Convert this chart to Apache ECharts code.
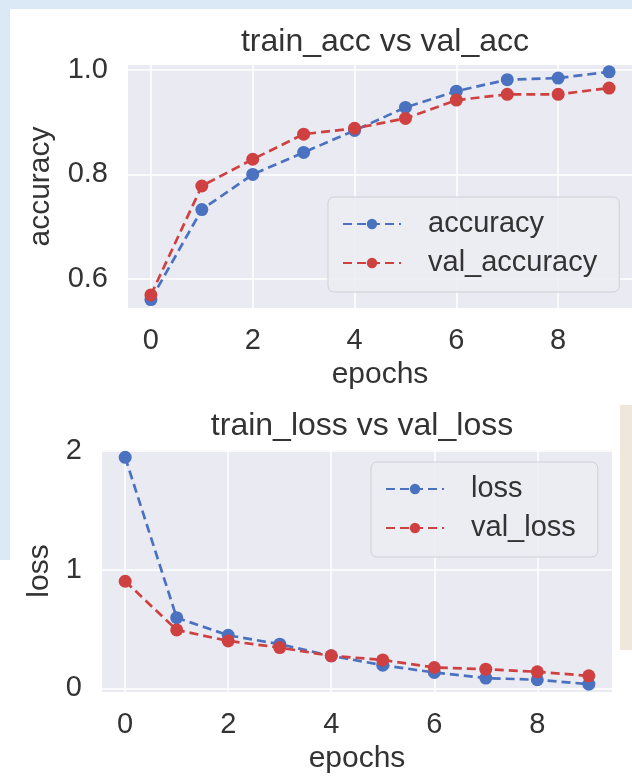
<!DOCTYPE html>
<html>
<head>
    <meta charset="utf-8">
    <title>train vs val</title>
    <script src="https://cdn.jsdelivr.net/npm/echarts@6/dist/echarts.min.js"></script>
    <style>
        html, body { margin: 0; padding: 0; }
        body { width: 632px; height: 778px; background: #dbe8f5; position: relative; overflow: hidden; }
        #paper { position: absolute; left: 10px; top: 9px; right: 0; bottom: 0; background: #fff; }
        #paper2 { position: absolute; left: 0; top: 560px; width: 10px; bottom: 0; background: #fff; }
        #edge { position: absolute; left: 620px; top: 405px; width: 12px; height: 245px; background: #efe6dc; }
        #chart { position: absolute; left: 0; top: 0; width: 632px; height: 778px; }
    </style>
</head>
<body>
    <div id="paper"></div>
    <div id="paper2"></div>
    <div id="edge"></div>
    <div id="chart"></div>

    <script>
        // values
        var epochs = [0, 1, 2, 3, 4, 5, 6, 7, 8, 9];
        var accuracy = [0.561, 0.733, 0.800, 0.842, 0.884, 0.928, 0.959, 0.981, 0.984, 0.996];
        var valAccuracy = [0.570, 0.778, 0.829, 0.877, 0.888, 0.907, 0.942, 0.953, 0.953, 0.965];
        var loss = [1.944, 0.595, 0.447, 0.372, 0.274, 0.196, 0.134, 0.087, 0.073, 0.036];
        var valLoss = [0.902, 0.492, 0.400, 0.344, 0.274, 0.240, 0.176, 0.162, 0.140, 0.106];
        var xTicks = [0, 2, 4, 6, 8];
        var accTicks = [0.6, 0.8, 1.0];
        var lossTicks = [0, 1, 2];

        var BLUE = '#4a72c0';
        var RED = '#cf4141';
        var TEXT = '#333333';
        var FONT = 'Liberation Sans, Arial, sans-serif';

        function pairs(ys) {
            return epochs.map(function (x, i) { return [x, ys[i]]; });
        }

        function xAxisOpt(gridIndex) {
            return {
                type: 'value', gridIndex: gridIndex, min: -0.45, max: 9.45,
                name: 'epochs', nameLocation: 'middle', nameGap: 52,
                nameTextStyle: { color: TEXT, fontSize: 30, fontFamily: FONT },
                axisLine: { show: false }, axisTick: { show: false, customValues: xTicks },
                axisLabel: { customValues: xTicks, color: TEXT, fontSize: 29, fontFamily: FONT, margin: 18 },
                splitLine: { show: true, lineStyle: { color: '#ffffff', width: 1.5 } }
            };
        }

        function yAxisOpt(gridIndex, name, min, max, ticks, fmt, gap) {
            return {
                type: 'value', gridIndex: gridIndex, min: min, max: max,
                name: name, nameLocation: 'middle', nameGap: gap,
                nameTextStyle: { color: TEXT, fontSize: 30, fontFamily: FONT },
                axisLine: { show: false }, axisTick: { show: false, customValues: ticks },
                axisLabel: { customValues: ticks, color: TEXT, fontSize: 29, fontFamily: FONT, margin: 20, formatter: fmt },
                splitLine: { show: true, lineStyle: { color: '#ffffff', width: 1.5 } }
            };
        }

        function lineSeries(name, color, ys, idx) {
            return {
                name: name, type: 'line', data: pairs(ys),
                xAxisIndex: idx, yAxisIndex: idx,
                symbol: 'circle', symbolSize: 13, showSymbol: true,
                color: color, itemStyle: { color: color },
                lineStyle: { color: color, width: 2.7, type: [9, 5] },
                animation: false
            };
        }

        function legendOpt(names, left, top) {
            return {
                data: names, left: left, top: top, orient: 'vertical',
                itemWidth: 58, itemHeight: 13, itemGap: 9,
                padding: [12, 22, 14, 14],
                backgroundColor: 'rgba(236,236,243,0.9)', borderColor: '#cfcfd6', borderWidth: 1, borderRadius: 6,
                textStyle: { color: TEXT, fontSize: 29, fontFamily: FONT, lineHeight: 30, padding: [0, 0, 0, 22] }
            };
        }

        var chart = echarts.init(document.getElementById('chart'), null, { renderer: 'canvas' });
        chart.setOption({
            backgroundColor: 'transparent',
            animation: false,
            title: [
                { text: 'train_acc vs val_acc', left: 380, top: 21, textAlign: 'center',
                  textStyle: { color: TEXT, fontSize: 32, fontWeight: 'normal', fontFamily: FONT } },
                { text: 'train_loss vs val_loss', left: 357, top: 405, textAlign: 'center',
                  textStyle: { color: TEXT, fontSize: 32, fontWeight: 'normal', fontFamily: FONT } }
            ],
            grid: [
                { left: 128, top: 65, width: 511, height: 243, show: true, backgroundColor: '#eaeaf2', borderWidth: 0 },
                { left: 102, top: 450, width: 510, height: 242, show: true, backgroundColor: '#eaeaf2', borderWidth: 0 }
            ],
            xAxis: [xAxisOpt(0), xAxisOpt(1)],
            yAxis: [
                yAxisOpt(0, 'accuracy', 0.545, 1.009, accTicks, function (v) { return v.toFixed(1); }, 72),
                yAxisOpt(1, 'loss', -0.03, 2.006, lossTicks, function (v) { return String(Math.round(v)); }, 46)
            ],
            legend: [
                legendOpt(['accuracy', 'val_accuracy'], 328, 197),
                legendOpt(['loss', 'val_loss'], 371, 462)
            ],
            series: [
                lineSeries('accuracy', BLUE, accuracy, 0),
                lineSeries('val_accuracy', RED, valAccuracy, 0),
                lineSeries('loss', BLUE, loss, 1),
                lineSeries('val_loss', RED, valLoss, 1)
            ]
        });
    </script>
</body>
</html>
